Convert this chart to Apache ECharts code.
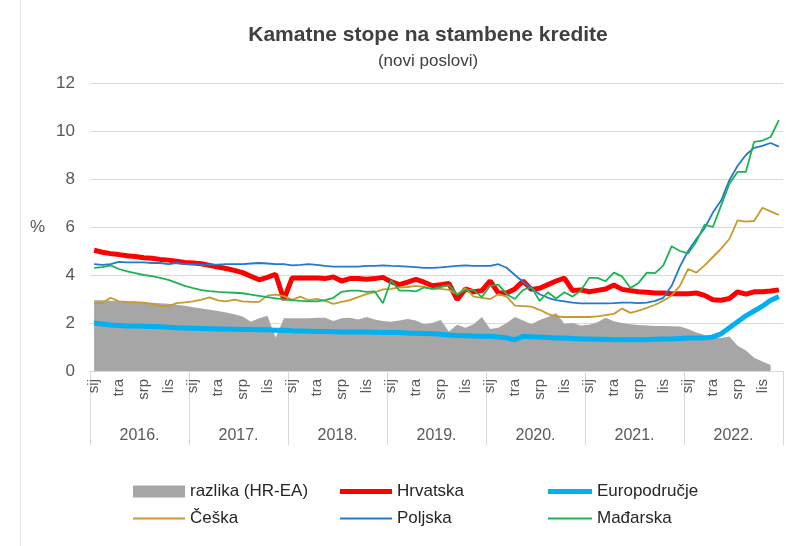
<!DOCTYPE html>
<html>
<head>
<meta charset="utf-8">
<script src="https://cdn.jsdelivr.net/npm/echarts@6/dist/echarts.min.js"></script>
<style>
html,body{margin:0;padding:0;background:#fff;}
#chart{width:800px;height:546px;}
</style>
</head>
<body>
<div id="chart"></div>
<script>
const years = ['2016.','2017.','2018.','2019.','2020.','2021.','2022.'];
const monthTicks = ['sij','','','tra','','','srp','','','lis','',''];

const razlika = [
  2.95,2.95,2.93,2.92,2.9,2.88,2.86,2.84,2.82,2.8,2.76,2.72,
  2.66,2.6,2.55,2.5,2.44,2.36,2.27,2.05,2.2,2.3,1.4,2.2,
  2.2,2.2,2.2,2.22,2.22,2.08,2.2,2.22,2.15,2.25,2.15,2.08,
  2.05,2.1,2.17,2.1,1.95,2.0,2.12,1.65,1.93,1.8,1.95,2.25,
  1.75,1.8,2.0,2.25,2.1,1.95,2.12,2.25,2.42,1.97,2.0,1.9,
  1.93,2.03,2.22,2.07,2.0,1.95,1.92,1.9,1.88,1.88,1.86,1.85,
  1.75,1.6,1.5,1.4,1.38,1.44,1.05,0.85,0.55,0.4,0.25,null
];
const hrvatska = [
  5.03,4.95,4.89,4.85,4.8,4.77,4.72,4.7,4.65,4.62,4.57,4.52,
  4.5,4.47,4.4,4.33,4.27,4.19,4.1,3.95,3.8,3.9,4.03,2.97,
  3.88,3.88,3.88,3.88,3.85,3.92,3.75,3.85,3.85,3.82,3.85,3.9,
  3.72,3.6,3.7,3.82,3.7,3.55,3.6,3.65,2.97,3.42,3.3,3.35,
  3.75,3.25,3.25,3.42,3.75,3.4,3.45,3.6,3.75,3.87,3.35,3.38,
  3.3,3.36,3.42,3.58,3.4,3.35,3.3,3.28,3.25,3.25,3.22,3.22,
  3.22,3.25,3.15,2.97,2.95,3.02,3.3,3.2,3.3,3.3,3.33,3.38
];
const europodrucje = [
  2.0,1.96,1.92,1.9,1.88,1.87,1.86,1.85,1.84,1.82,1.8,1.79,
  1.78,1.77,1.76,1.75,1.75,1.74,1.73,1.73,1.72,1.72,1.7,1.7,
  1.68,1.67,1.66,1.65,1.65,1.64,1.63,1.62,1.62,1.62,1.61,1.6,
  1.6,1.6,1.58,1.57,1.56,1.55,1.53,1.5,1.48,1.47,1.46,1.45,
  1.45,1.42,1.38,1.3,1.45,1.43,1.42,1.4,1.38,1.37,1.35,1.33,
  1.33,1.32,1.32,1.3,1.3,1.3,1.3,1.3,1.32,1.33,1.33,1.35,
  1.37,1.38,1.38,1.42,1.55,1.8,2.05,2.3,2.5,2.7,2.95,3.1
];
const ceska = [
  2.83,2.83,3.05,2.9,2.88,2.87,2.85,2.8,2.7,2.7,2.83,2.86,
  2.9,2.97,3.07,2.94,2.9,2.97,2.9,2.88,2.88,3.14,3.18,3.12,
  2.97,3.1,2.95,3.0,2.92,2.8,2.88,2.95,3.08,3.2,3.28,3.4,
  3.42,3.48,3.5,3.55,3.5,3.42,3.42,3.38,3.2,3.45,3.1,3.05,
  3.0,3.2,3.1,2.72,2.7,2.68,2.55,2.38,2.27,2.25,2.25,2.25,
  2.25,2.28,2.33,2.38,2.6,2.42,2.52,2.63,2.76,2.93,3.15,3.55,
  4.25,4.1,4.4,4.75,5.1,5.5,6.28,6.22,6.25,6.8,6.65,6.5
];
const poljska = [
  4.45,4.42,4.45,4.55,4.53,4.53,4.53,4.5,4.5,4.45,4.5,4.45,
  4.45,4.43,4.43,4.43,4.45,4.45,4.45,4.48,4.5,4.48,4.45,4.45,
  4.4,4.42,4.45,4.42,4.38,4.35,4.35,4.35,4.35,4.38,4.38,4.4,
  4.38,4.37,4.35,4.33,4.3,4.3,4.32,4.35,4.38,4.4,4.38,4.38,
  4.38,4.45,4.3,4.0,3.72,3.45,3.2,3.05,2.95,2.9,2.85,2.82,
  2.82,2.82,2.82,2.83,2.85,2.85,2.83,2.85,2.92,3.05,3.55,4.35,
  5.0,5.5,5.95,6.6,7.1,7.95,8.55,9.0,9.3,9.38,9.5,9.35
];
const madarska = [
  4.3,4.33,4.4,4.25,4.15,4.08,4.0,3.95,3.88,3.8,3.67,3.55,
  3.45,3.37,3.33,3.3,3.28,3.26,3.24,3.18,3.13,3.08,3.03,2.98,
  2.95,2.92,2.9,2.9,2.95,3.05,3.3,3.35,3.35,3.3,3.32,2.82,
  3.78,3.35,3.35,3.32,3.48,3.42,3.5,3.58,3.18,3.38,3.38,3.08,
  3.55,3.6,3.2,3.0,3.38,3.5,2.92,3.28,3.02,3.28,3.1,3.35,
  3.88,3.88,3.74,4.1,3.94,3.46,3.67,4.1,4.08,4.4,5.2,5.0,
  4.9,5.4,6.1,6.0,6.9,7.8,8.3,8.3,9.55,9.6,9.75,10.45
];

const categories = [];
years.forEach(y => monthTicks.forEach((m, j) => categories.push(y + (j + 1))));

const FONT = '"Liberation Sans", Arial, sans-serif';
const AXIS_TEXT = '#595959';
const GRID_LINE = '#d9d9d9';

const gridBox = {left: 90, right: 17, top: 83, height: 288};

function legendAt(name, left, top, w, h, color) {
  return {
    data: [{name: name, icon: 'rect', itemStyle: {color: color}}],
    left: left, top: top, orient: 'horizontal', padding: 0,
    itemWidth: w, itemHeight: h, itemGap: 0,
    textStyle: {fontFamily: FONT, fontSize: 17, color: '#262626'},
    selectedMode: false
  };
}

const chart = echarts.init(document.getElementById('chart'), null, {renderer: 'canvas'});
chart.setOption({
  animation: false,
  backgroundColor: '#fff',
  textStyle: {fontFamily: FONT},
  graphic: [
    {type: 'line', shape: {x1: 20.5, y1: 0, x2: 20.5, y2: 546}, style: {stroke: '#e3e3e3', lineWidth: 1}, silent: true},
    {type: 'text', x: 428, y: 35, style: {text: 'Kamatne stope na stambene kredite', font: 'bold 21px ' + FONT, fill: '#404040', textAlign: 'center', textVerticalAlign: 'middle'}},
    {type: 'text', x: 428, y: 61, style: {text: '(novi poslovi)', font: '17px ' + FONT, fill: '#404040', textAlign: 'center', textVerticalAlign: 'middle'}}
  ],
  grid: [Object.assign({}, gridBox), Object.assign({}, gridBox)],
  xAxis: [
    {
      type: 'category', gridIndex: 0, data: categories, boundaryGap: true,
      axisLine: {lineStyle: {color: GRID_LINE, width: 1}},
      axisTick: {show: false},
      axisLabel: {
        interval: 0, rotate: 90, margin: 8, fontSize: 15, color: AXIS_TEXT, fontFamily: FONT,
        formatter: (v, i) => monthTicks[i % 12]
      },
      splitLine: {show: false}
    },
    {
      type: 'category', gridIndex: 1, data: years, boundaryGap: true, position: 'bottom',
      axisLine: {show: false},
      axisTick: {show: true, length: 74, lineStyle: {color: GRID_LINE, width: 1}},
      axisLabel: {margin: 57, fontSize: 16, color: AXIS_TEXT, fontFamily: FONT},
      splitLine: {show: false}
    }
  ],
  yAxis: [
    {
      type: 'value', gridIndex: 0, min: 0, max: 12, interval: 2,
      name: '%', nameLocation: 'middle', nameRotate: 0, nameGap: 45,
      nameTextStyle: {fontSize: 17, color: AXIS_TEXT, fontFamily: FONT},
      axisLine: {show: false}, axisTick: {show: false},
      axisLabel: {margin: 15, fontSize: 17, color: AXIS_TEXT, fontFamily: FONT},
      splitLine: {lineStyle: {color: GRID_LINE, width: 1}}
    },
    {type: 'value', gridIndex: 1, min: 0, max: 12, show: false}
  ],
  legend: [
    legendAt('razlika (HR-EA)', 133, 483, 52, 12, '#a6a6a6'),
    legendAt('Hrvatska', 340, 483, 52, 5, '#ff0000'),
    legendAt('Europodručje', 548, 483, 44, 5, '#00b0f0'),
    legendAt('Češka', 133, 510, 52, 2, '#c99a2e'),
    legendAt('Poljska', 340, 510, 52, 2, '#2378cf'),
    legendAt('Mađarska', 548, 510, 44, 2, '#1db354')
  ],
  series: [
    {
      name: 'razlika (HR-EA)', type: 'line', xAxisIndex: 0, yAxisIndex: 0, data: razlika,
      symbol: 'none', lineStyle: {width: 0, color: '#a6a6a6'}, itemStyle: {color: '#a6a6a6'},
      areaStyle: {color: '#a6a6a6', opacity: 1}, z: 1
    },
    {
      name: 'Hrvatska', type: 'line', data: hrvatska, symbol: 'none',
      lineStyle: {width: 5, color: '#ff0000'}, itemStyle: {color: '#ff0000'}, z: 2
    },
    {
      name: 'Europodručje', type: 'line', data: europodrucje, symbol: 'none',
      lineStyle: {width: 5, color: '#00b0f0'}, itemStyle: {color: '#00b0f0'}, z: 3
    },
    {
      name: 'Češka', type: 'line', data: ceska, symbol: 'none',
      lineStyle: {width: 1.8, color: '#c99a2e'}, itemStyle: {color: '#c99a2e'}, z: 4
    },
    {
      name: 'Poljska', type: 'line', data: poljska, symbol: 'none',
      lineStyle: {width: 1.8, color: '#2378cf'}, itemStyle: {color: '#2378cf'}, z: 5
    },
    {
      name: 'Mađarska', type: 'line', data: madarska, symbol: 'none',
      lineStyle: {width: 1.8, color: '#1db354'}, itemStyle: {color: '#1db354'}, z: 6
    }
  ]
});
</script>
</body>
</html>
